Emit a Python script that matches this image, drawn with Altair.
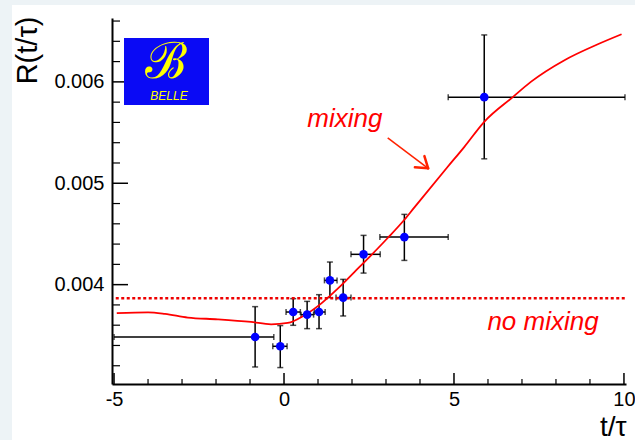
import altair as alt
import pandas as pd

# ---------------- data ----------------
pt_x   = [-0.85, -0.11, 0.27, 0.68, 1.03, 1.35, 1.74, 2.34, 3.54, 5.89]
pt_y   = [0.003484, 0.003392, 0.00373, 0.003704, 0.00373, 0.004042, 0.003872, 0.004299, 0.004469, 0.005849]
pt_xlo = [-5.0, -0.33, 0.06, 0.50, 0.89, 1.19, 1.53, 1.97, 2.82, 4.83]
pt_xhi = [-0.30, 0.09, 0.48, 0.87, 1.21, 1.56, 1.97, 2.83, 4.83, 10.03]
pt_ylo = [0.003188, 0.003182, 0.003599, 0.003566, 0.003566, 0.003872, 0.003691, 0.004114, 0.004239, 0.005241]
pt_yhi = [0.003783, 0.003596, 0.003862, 0.003835, 0.003901, 0.004223, 0.004052, 0.004486, 0.004693, 0.006463]

curve_x = [-4.92, -4.0, -3.5, -2.83, -1.95, -0.97, -0.38, 0.11, 0.6, 1.09, 1.58, 2.07, 2.56,
           3.05, 3.54, 3.83, 4.81, 5.30, 5.89, 6.73, 7.26, 8.25, 9.23, 9.93]
curve_y = [0.003720, 0.003727, 0.003712, 0.003675, 0.003658, 0.003632, 0.003609, 0.003622,
           0.003698, 0.003813, 0.003960, 0.004124, 0.004289, 0.004460, 0.004640, 0.004760,
           0.005160, 0.005357, 0.005606, 0.005850, 0.006000, 0.006214, 0.006371, 0.006470]

nomix_x = [-4.95, 10.05]
nomix_y = [0.003865, 0.003865]

arrow_x  = [3.05, 4.24]
arrow_y  = [0.005448, 0.005147]
head_x   = [3.85, 4.13]
head_y   = [0.005157, 0.005268]

labels_text = ["mixing", "no mixing"]
labels_x = [1.79, 7.62]
labels_y = [0.005557, 0.00355]

x_major = [-5, 0, 5, 10]
x_minor = [-4, -3, -2, -1, 1, 2, 3, 4, 6, 7, 8, 9]
y_major = [0.004, 0.005, 0.006]
y_minor = [0.0032, 0.0034, 0.0036, 0.0038, 0.0042, 0.0044, 0.0046, 0.0048,
           0.0052, 0.0054, 0.0056, 0.0058, 0.0062, 0.0064, 0.0066]

XDOM = [-5.06, 10.06]
YDOM = [0.00302, 0.00663]
W, H = 514, 366

pts = pd.DataFrame(dict(x=pt_x, y=pt_y, xlo=pt_xlo, xhi=pt_xhi, ylo=pt_ylo, yhi=pt_yhi))
curve = pd.DataFrame(dict(x=curve_x, y=curve_y))
nomix = pd.DataFrame(dict(x=nomix_x, y=nomix_y))
arrow = pd.DataFrame(dict(x=[arrow_x[0]], y=[arrow_y[0]], x2=[arrow_x[1]], y2=[arrow_y[1]]))
head = pd.DataFrame(dict(x=head_x, y=head_y, x2=[arrow_x[1]] * 2, y2=[arrow_y[1]] * 2))
labels = pd.DataFrame(dict(t=labels_text, x=labels_x, y=labels_y))

FONT = "Liberation Sans"

xs = alt.Scale(domain=XDOM, nice=False, zero=False)
ys = alt.Scale(domain=YDOM, nice=False, zero=False)

xax = alt.Axis(values=x_major, ticks=False, grid=False, domainColor="black", domainWidth=2,
               labelFont=FONT, labelFontSize=20, labelColor="black", labelPadding=5,
               labelExpr="toString(datum.value)",
               title="t/τ", titleFont=FONT, titleFontSize=28, titleFontWeight="normal",
               titleColor="black", titleAnchor="end", titleAlign="right", titleX=W,
               titleY=51, titleBaseline="alphabetic", zindex=1, labelFlush=False)
yax = alt.Axis(values=y_major, ticks=False, grid=False, domainColor="black", domainWidth=2,
               labelFont=FONT, labelFontSize=20, labelColor="black", labelPadding=8,
               format=".3f",
               title="R(t/τ)", titleFont=FONT, titleFontSize=29, titleFontWeight="normal",
               titleColor="black", titleAngle=-90, titleAlign="right", titleX=-76, titleY=-2,
               titleBaseline="alphabetic", zindex=1)

# white sheet over the light page background
sheet = alt.Chart(pd.DataFrame({"a": [0]})).mark_rect(color="white").encode(
    x=alt.value(-100), x2=alt.value(523), y=alt.value(-13), y2=alt.value(422))

base_pts = alt.Chart(pts)
xerr = base_pts.mark_rule(color="black", strokeWidth=1.5).encode(
    x=alt.X("xlo:Q", scale=xs, axis=xax), x2="xhi:Q", y=alt.Y("y:Q", scale=ys, axis=yax))
yerr = base_pts.mark_rule(color="black", strokeWidth=1.5).encode(
    x=alt.X("x:Q", scale=xs), y=alt.Y("ylo:Q", scale=ys), y2="yhi:Q")
cap_xlo = base_pts.mark_tick(color="black", orient="vertical", size=6, thickness=1.5).encode(
    x=alt.X("xlo:Q", scale=xs), y=alt.Y("y:Q", scale=ys))
cap_xhi = base_pts.mark_tick(color="black", orient="vertical", size=6, thickness=1.5).encode(
    x=alt.X("xhi:Q", scale=xs), y=alt.Y("y:Q", scale=ys))
cap_ylo = base_pts.mark_tick(color="black", orient="horizontal", size=6, thickness=1.5).encode(
    x=alt.X("x:Q", scale=xs), y=alt.Y("ylo:Q", scale=ys))
cap_yhi = base_pts.mark_tick(color="black", orient="horizontal", size=6, thickness=1.5).encode(
    x=alt.X("x:Q", scale=xs), y=alt.Y("yhi:Q", scale=ys))
dots = base_pts.mark_circle(color="#0000ff", opacity=1, size=75).encode(
    x=alt.X("x:Q", scale=xs), y=alt.Y("y:Q", scale=ys))

line = alt.Chart(curve).mark_line(color="#ff0000", strokeWidth=1.8, interpolate="monotone").encode(
    x=alt.X("x:Q", scale=xs), y=alt.Y("y:Q", scale=ys))
dotted = alt.Chart(nomix).mark_line(color="#ee0000", strokeWidth=2.5, strokeDash=[3, 2.5]).encode(
    x=alt.X("x:Q", scale=xs), y=alt.Y("y:Q", scale=ys))

arr = alt.Chart(arrow).mark_rule(color="#ff2200", strokeWidth=1.5).encode(
    x=alt.X("x:Q", scale=xs), y=alt.Y("y:Q", scale=ys), x2="x2:Q", y2="y2:Q")
arrh = alt.Chart(head).mark_rule(color="#ff2200", strokeWidth=2.5, strokeCap="round").encode(
    x=alt.X("x:Q", scale=xs), y=alt.Y("y:Q", scale=ys), x2="x2:Q", y2="y2:Q")

txt = alt.Chart(labels).mark_text(color="#ff0000", font=FONT, fontStyle="italic", fontSize=26,
                                  align="center", baseline="alphabetic").encode(
    x=alt.X("x:Q", scale=xs), y=alt.Y("y:Q", scale=ys), text="t:N")

# tick marks pointing inside the frame
ytick_maj = alt.Chart(pd.DataFrame({"v": y_major})).mark_rule(color="black", strokeWidth=1.5).encode(
    y=alt.Y("v:Q", scale=ys), x=alt.value(0), x2=alt.value(16))
ytick_min = alt.Chart(pd.DataFrame({"v": y_minor})).mark_rule(color="black", strokeWidth=1.2).encode(
    y=alt.Y("v:Q", scale=ys), x=alt.value(0), x2=alt.value(8))
xtick_maj = alt.Chart(pd.DataFrame({"v": x_major})).mark_rule(color="black", strokeWidth=1.5).encode(
    x=alt.X("v:Q", scale=xs), y=alt.value(H), y2=alt.value(H - 11))
xtick_min = alt.Chart(pd.DataFrame({"v": x_minor})).mark_rule(color="black", strokeWidth=1.2).encode(
    x=alt.X("v:Q", scale=xs), y=alt.value(H), y2=alt.value(H - 5))

# Belle logo
one = pd.DataFrame({"a": [0]})
logo_bg = alt.Chart(one).mark_rect(color="#0a0af5").encode(
    x=alt.value(12), x2=alt.value(97), y=alt.value(20), y2=alt.value(87))
logo_b = alt.Chart(one).mark_text(text="ℬ", color="#ffff00", font="DejaVu Serif", fontSize=50,
                                  align="center", baseline="bottom").encode(
    x=alt.value(54), y=alt.value(70))
logo_t = alt.Chart(one).mark_text(text="BELLE", color="#ffff00", font=FONT, fontStyle="italic",
                                  fontSize=12, align="center", baseline="alphabetic").encode(
    x=alt.value(57), y=alt.value(82))

chart = alt.layer(
    sheet, xerr, yerr, cap_xlo, cap_xhi, cap_ylo, cap_yhi, line, dotted, dots,
    arr, arrh, txt, ytick_maj, ytick_min, xtick_maj, xtick_min, logo_bg, logo_b, logo_t
).properties(
    width=W, height=H,
    autosize=alt.AutoSizeParams(type="none"),
    padding={"left": 112, "top": 18, "right": 9, "bottom": 56},
    background="#edf3f6",
).configure_view(
    stroke="#444444", strokeWidth=1.5, fill="white"
)

chart.save("out.html", embed_options={"renderer": "svg", "actions": False})
